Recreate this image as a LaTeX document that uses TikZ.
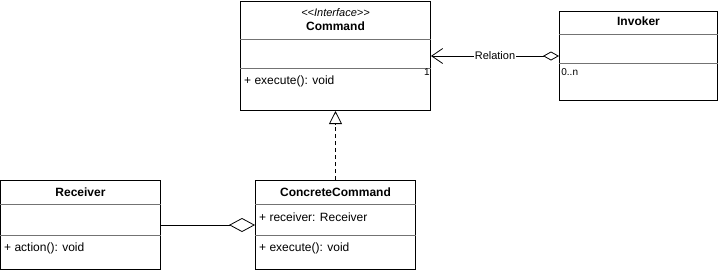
\documentclass[tikz,border=0pt]{standalone}
\usepackage{fontspec}
\setmainfont{Liberation Sans}
\usetikzlibrary{arrows.meta}
\tikzset{>=latex}
\tikzset{
  umlclass/.style = {draw, line width = 1pt, rectangle, anchor = north west, inner sep = 0pt},
  umlsep/.style = {line width = 0.7pt, black!55},
  classname/.style = {font = \bfseries\fontsize{12}{14}\selectfont, inner sep = 0pt},
  member/.style = {anchor = west, font = \fontsize{12}{14}\selectfont, inner sep = 0pt},
  mult/.style = {font = \fontsize{10}{12}\selectfont, inner sep = 0pt}
}

\begin{document}
\begin{tikzpicture}[x = 1pt, y = -1pt]
\useasboundingbox (0,0) rectangle (721,271);
% the interface
\node[umlclass, minimum width = 190pt, minimum height = 109pt] (cmd) at (240,1) {};
\node[font = \itshape\fontsize{11}{13}\selectfont, inner sep = 0pt] (cmdstereo) at ([yshift = -12pt]cmd.north) {<{}<Interface>{}>};
\node[classname] (cmdname) at ([yshift = -25pt]cmd.north) {Command};
\draw[umlsep] ([yshift = -38pt]cmd.north west) -- ([yshift = -38pt]cmd.north east);
\draw[umlsep] ([yshift = -67pt]cmd.north west) -- ([yshift = -67pt]cmd.north east);
\node[member] (cmdexec) at ([xshift = 4pt, yshift = -80pt]cmd.north west) {+ execute(): void};

% the invoker
\node[umlclass, minimum width = 158pt, minimum height = 89pt] (inv) at (559,11) {};
\node[classname] (invname) at ([yshift = -10pt]inv.north) {Invoker};
\draw[umlsep] ([yshift = -23pt]inv.north west) -- ([yshift = -23pt]inv.north east);
\draw[umlsep] ([yshift = -52pt]inv.north west) -- ([yshift = -52pt]inv.north east);

% the receiver
\node[umlclass, minimum width = 160pt, minimum height = 89pt] (rcv) at (0,180) {};
\node[classname] (rcvname) at ([yshift = -12pt]rcv.north) {Receiver};
\draw[umlsep] ([yshift = -24pt]rcv.north west) -- ([yshift = -24pt]rcv.north east);
\draw[umlsep] ([yshift = -55pt]rcv.north west) -- ([yshift = -55pt]rcv.north east);
\node[member] (rcvaction) at ([xshift = 4pt, yshift = -68pt]rcv.north west) {+ action(): void};

% the concrete command
\node[umlclass, minimum width = 160pt, minimum height = 89pt] (concmd) at (255,180) {};
\node[classname] (concmdname) at ([yshift = -12pt]concmd.north) {ConcreteCommand};
\draw[umlsep] ([yshift = -24pt]concmd.north west) -- ([yshift = -24pt]concmd.north east);
\draw[umlsep] ([yshift = -55pt]concmd.north west) -- ([yshift = -55pt]concmd.north east);
\node[member] (concmdrcv) at ([xshift = 4pt, yshift = -37pt]concmd.north west) {+ receiver: Receiver};
\node[member] (concmdexec) at ([xshift = 4pt, yshift = -68pt]concmd.north west) {+ execute(): void};

% relations
\draw[line width = 0.8pt, {Straight Barb[length = 11pt, width = 15pt]}-{Diamond[open, length = 16pt, width = 9pt]}]
  (cmd.east) -- (inv.west)
  node[midway, fill = white, inner sep = 1pt, font = \fontsize{11}{13}\selectfont] (rel) {Relation}
  node[pos = 0, mult, anchor = north east, xshift = -1pt, yshift = -12pt] (cmdmult) {1}
  node[pos = 1, mult, anchor = north west, xshift = 2pt, yshift = -12pt] (invmult) {0..n};
\draw[line width = 0.8pt, dashed, dash pattern = on 4pt off 3pt, -{Triangle[open, length = 13pt, width = 13pt]}]
  (concmd.north) -- (cmd.south);
\draw[line width = 0.8pt, -{Diamond[open, length = 26pt, width = 14pt]}]
  (rcv.east) -- (concmd.west);
\end{tikzpicture}
\end{document}
